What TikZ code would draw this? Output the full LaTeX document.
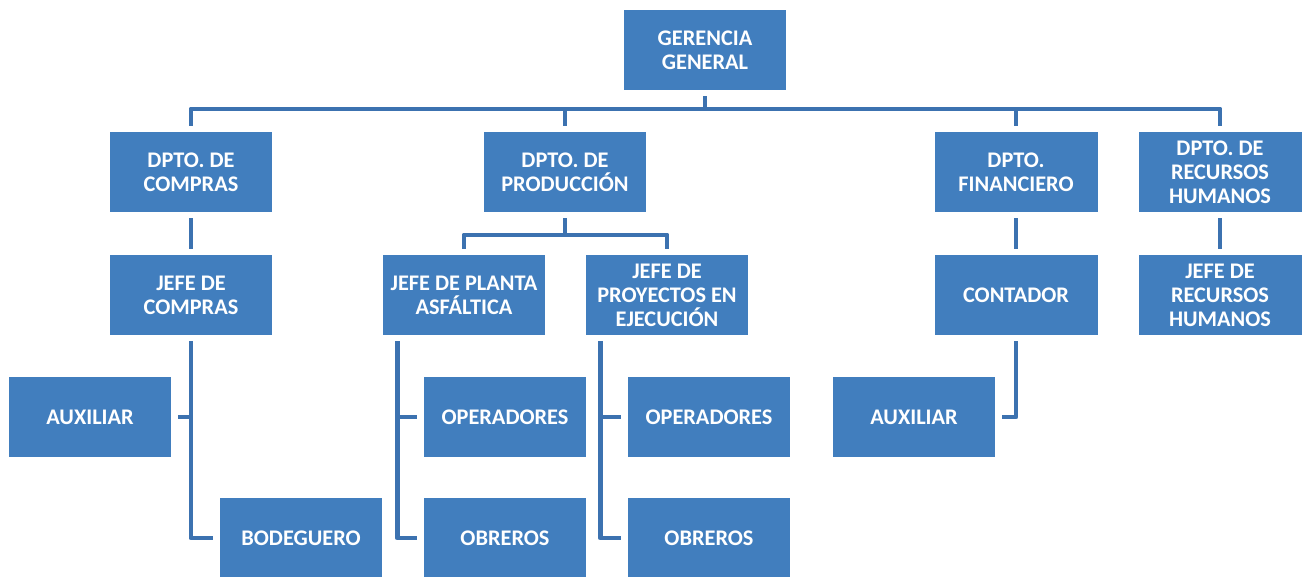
\documentclass[tikz,border=0pt]{standalone}
\usepackage{fontspec}
\setmainfont{Carlito}
\usepackage{tikz}
\usetikzlibrary{shapes,arrows}
\definecolor{boxblue}{RGB}{65,126,190}
\definecolor{lineblue}{RGB}{60,114,176}
\tikzstyle{block} = [rectangle, fill=boxblue, text=white, text centered, align=center, minimum width=3.26cm, minimum height=1.6cm, inner sep=2pt, font=\fontsize{12.7}{13.6}\selectfont\bfseries]
\tikzstyle{line} = [draw=lineblue, line width=2.8pt, line join=round]

\begin{document}
\begin{tikzpicture}[x=0.02cm, y=-0.02cm]
\useasboundingbox (0,0) rectangle (1304,577);
\node [block] (gerencia) at (705,50) {GERENCIA\\GENERAL};
\node [block] (compras) at (191,172) {DPTO. DE\\COMPRAS};
\node [block] (produccion) at (565,172) {DPTO. DE\\PRODUCCIÓN};
\node [block] (financiero) at (1016,172) {DPTO.\\FINANCIERO};
\node [block] (rrhh) at (1220,172) {DPTO. DE\\RECURSOS\\HUMANOS};
\coordinate (bus) at (705,109);
\path [line, shorten <=0.12cm] (gerencia.south) -- (bus);
\path [line, shorten >=0.12cm] (bus) -| (compras.north);
\path [line, shorten >=0.12cm] (bus) -| (produccion.north);
\path [line, shorten >=0.12cm] (bus) -| (financiero.north);
\path [line, shorten >=0.12cm] (bus) -| (rrhh.north);
\node [block] (jcompras) at (191,295) {JEFE DE\\COMPRAS};
\node [block] (jplanta) at (464,295) {JEFE DE PLANTA\\ASFÁLTICA};
\node [block] (jproyectos) at (667,295) {JEFE DE\\PROYECTOS EN\\EJECUCIÓN};
\node [block] (contador) at (1016,295) {CONTADOR};
\node [block] (jrrhh) at (1220,295) {JEFE DE\\RECURSOS\\HUMANOS};
\path [line, shorten <=0.12cm, shorten >=0.12cm] (compras.south) -- (jcompras.north);
\coordinate (bus-prod) at (565,235);
\path [line, shorten <=0.12cm] (produccion.south) -- (bus-prod);
\path [line, shorten >=0.12cm] (bus-prod) -| (jplanta.north);
\path [line, shorten >=0.12cm] (bus-prod) -| (jproyectos.north);
\path [line, shorten <=0.12cm, shorten >=0.12cm] (financiero.south) -- (contador.north);
\path [line, shorten <=0.12cm, shorten >=0.12cm] (rrhh.south) -- (jrrhh.north);
\node [block] (auxiliar-a) at (90,417) {AUXILIAR};
\node [block] (bodeguero) at (301,538) {BODEGUERO};
\node [block] (operadores-a) at (505,417) {OPERADORES};
\node [block] (obreros-a) at (505,538) {OBREROS};
\node [block] (operadores-b) at (709,417) {OPERADORES};
\node [block] (obreros-b) at (709,538) {OBREROS};
\node [block] (auxiliar-b) at (914,417) {AUXILIAR};
\path [line, shorten <=0.12cm, shorten >=0.12cm] (jcompras.south) |- (bodeguero.west);
\path [line, shorten >=0.12cm] (jcompras.south |- auxiliar-a.east) -- (auxiliar-a.east);
\coordinate (planta-stem) at ([xshift=0.3cm]jplanta.south west);
\path [line, shorten <=0.12cm, shorten >=0.12cm] (planta-stem) |- (obreros-a.west);
\path [line, shorten >=0.12cm] (planta-stem |- operadores-a.west) -- (operadores-a.west);
\coordinate (proyectos-stem) at ([xshift=0.3cm]jproyectos.south west);
\path [line, shorten <=0.12cm, shorten >=0.12cm] (proyectos-stem) |- (obreros-b.west);
\path [line, shorten >=0.12cm] (proyectos-stem |- operadores-b.west) -- (operadores-b.west);
\path [line, shorten <=0.12cm, shorten >=0.12cm] (contador.south) |- (auxiliar-b.east);
\end{tikzpicture}
\end{document}
